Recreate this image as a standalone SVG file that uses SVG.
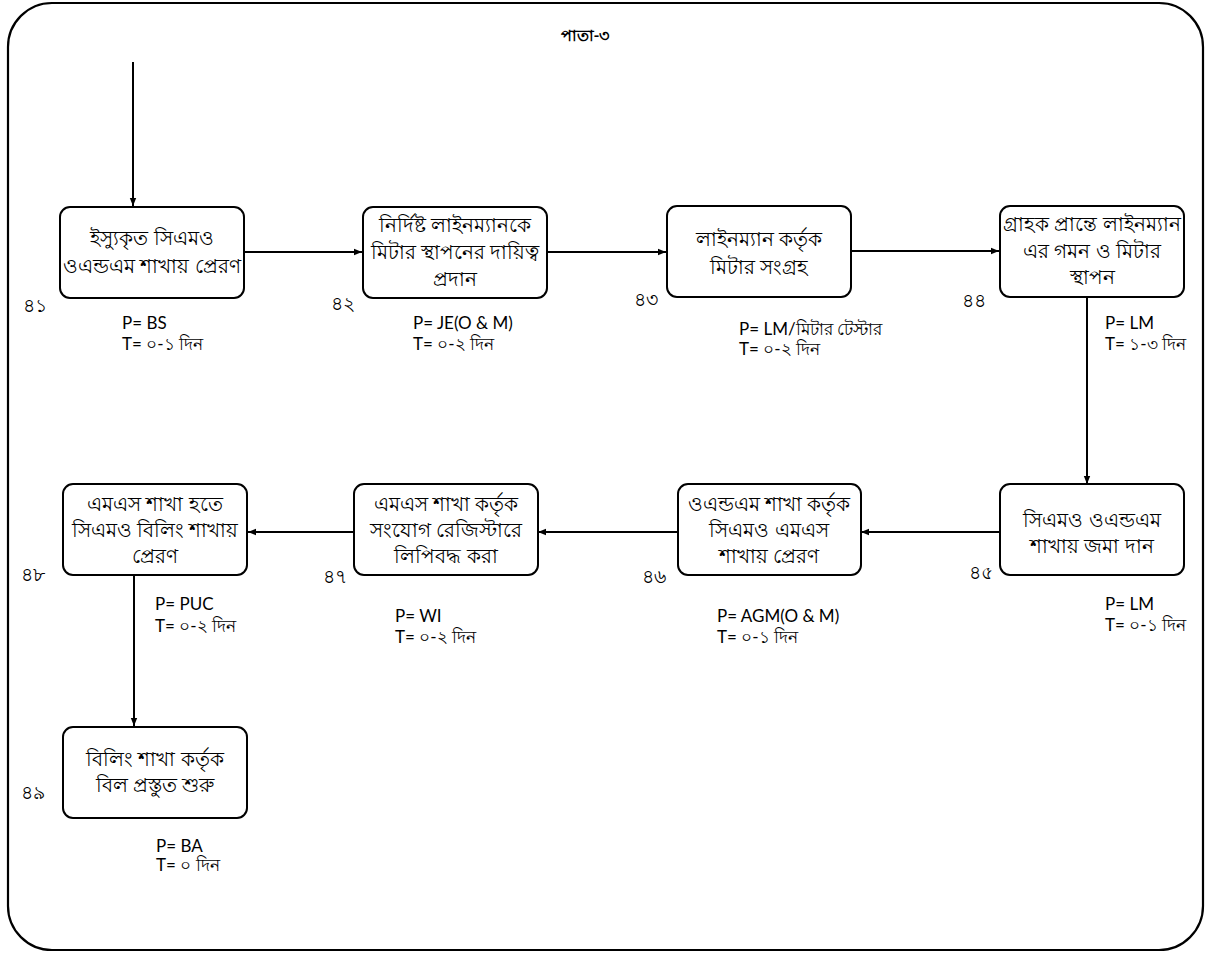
<svg xmlns="http://www.w3.org/2000/svg" width="1211" height="957" viewBox="0 0 1211 957">
<defs>
<marker id="ah" viewBox="0 0 10 10" refX="10" refY="5" markerWidth="8" markerHeight="8" markerUnits="userSpaceOnUse" orient="auto">
<path d="M0,1 L10,5 L0,9 z" fill="#000"/>
</marker>
</defs>
<style>
text{font-family:"Lato","Noto Sans","Liberation Sans",sans-serif;fill:#000;}
.box{fill:#fff;stroke:#000;stroke-width:2;}
.bt{font-size:20px;text-anchor:middle;}
.num{font-size:19px;text-anchor:end;}
.pt{font-size:17px;}
.conn{stroke:#000;stroke-width:2;fill:none;marker-end:url(#ah);}
</style>
<rect x="0" y="0" width="1211" height="957" fill="#fff"/>
<rect x="8" y="3" width="1195" height="947" rx="44" ry="44" fill="none" stroke="#000" stroke-width="2.2"/>
<text x="585" y="41" style="font-size:16px;font-weight:bold;text-anchor:middle">পাতা-৩</text>

<g id="connectors">
<line class="conn" x1="133" y1="62" x2="133" y2="206"/>
<line class="conn" x1="244" y1="252" x2="362" y2="252"/>
<line class="conn" x1="547" y1="252" x2="666" y2="252"/>
<line class="conn" x1="851" y1="251" x2="999" y2="251"/>
<line class="conn" x1="1087" y1="298" x2="1087" y2="484"/>
<line class="conn" x1="1000" y1="532" x2="861" y2="532"/>
<line class="conn" x1="678" y1="532" x2="538" y2="532"/>
<line class="conn" x1="353" y1="532" x2="248" y2="532"/>
<line class="conn" x1="134" y1="576" x2="134" y2="726"/>
</g>

<g id="n41">
<rect class="box" x="60" y="207" width="184" height="91" rx="10"/>
<text class="bt" x="152" y="245">ইস্যুকৃত সিএমও</text>
<text class="bt" x="152" y="273">ওএন্ডএম শাখায় প্রেরণ</text>
<text class="num" x="47" y="312">৪১</text>
<text class="pt" x="122" y="329">P= BS</text>
<text class="pt" x="122" y="350">T= ০-১ দিন</text>
</g>

<g id="n42">
<rect class="box" x="363" y="207" width="184" height="91" rx="10"/>
<text class="bt" x="455" y="232">নির্দিষ্ট লাইনম্যানকে</text>
<text class="bt" x="455" y="259">মিটার স্থাপনের দায়িত্ব</text>
<text class="bt" x="455" y="286">প্রদান</text>
<text class="num" x="355" y="310">৪২</text>
<text class="pt" x="413" y="329">P= JE(O &amp; M)</text>
<text class="pt" x="413" y="350">T= ০-২ দিন</text>
</g>

<g id="n43">
<rect class="box" x="667" y="206" width="184" height="91" rx="10"/>
<text class="bt" x="759" y="246">লাইনম্যান কর্তৃক</text>
<text class="bt" x="759" y="274">মিটার সংগ্রহ</text>
<text class="num" x="658" y="306">৪৩</text>
<text class="pt" x="739" y="335">P= LM/মিটার টেস্টার</text>
<text class="pt" x="739" y="355">T= ০-২ দিন</text>
</g>

<g id="n44">
<rect class="box" x="1000" y="206" width="184" height="91" rx="10"/>
<text class="bt" x="1092" y="231">গ্রাহক প্রান্তে লাইনম্যান</text>
<text class="bt" x="1092" y="258">এর গমন ও মিটার</text>
<text class="bt" x="1092" y="284">স্থাপন</text>
<text class="num" x="986" y="307">৪৪</text>
<text class="pt" x="1105" y="329">P= LM</text>
<text class="pt" x="1105" y="350">T= ১-৩ দিন</text>
</g>

<g id="n45">
<rect class="box" x="1000" y="484" width="184" height="91" rx="10"/>
<text class="bt" x="1092" y="527">সিএমও ওএন্ডএম</text>
<text class="bt" x="1092" y="553">শাখায় জমা দান</text>
<text class="num" x="993" y="579">৪৫</text>
<text class="pt" x="1105" y="610">P= LM</text>
<text class="pt" x="1105" y="631">T= ০-১ দিন</text>
</g>

<g id="n46">
<rect class="box" x="678" y="484" width="183" height="91" rx="10"/>
<text class="bt" x="769" y="511">ওএন্ডএম শাখা কর্তৃক</text>
<text class="bt" x="769" y="537">সিএমও  এমএস</text>
<text class="bt" x="769" y="563">শাখায় প্রেরণ</text>
<text class="num" x="666" y="583">৪৬</text>
<text class="pt" x="717" y="622">P= AGM(O &amp; M)</text>
<text class="pt" x="717" y="643">T= ০-১ দিন</text>
</g>

<g id="n47">
<rect class="box" x="354" y="484" width="184" height="91" rx="10"/>
<text class="bt" x="446" y="511">এমএস শাখা কর্তৃক</text>
<text class="bt" x="446" y="537">সংযোগ রেজিস্টারে</text>
<text class="bt" x="446" y="563">লিপিবদ্ধ করা</text>
<text class="num" x="347" y="583">৪৭</text>
<text class="pt" x="395" y="622">P= WI</text>
<text class="pt" x="395" y="643">T= ০-২ দিন</text>
</g>

<g id="n48">
<rect class="box" x="63" y="484" width="184" height="91" rx="10"/>
<text class="bt" x="155" y="511">এমএস শাখা হতে</text>
<text class="bt" x="155" y="537">সিএমও বিলিং শাখায়</text>
<text class="bt" x="155" y="563">প্রেরণ</text>
<text class="num" x="45" y="581">৪৮</text>
<text class="pt" x="155" y="610">P= PUC</text>
<text class="pt" x="155" y="632">T= ০-২ দিন</text>
</g>

<g id="n49">
<rect class="box" x="63" y="727" width="184" height="91" rx="10"/>
<text class="bt" x="155" y="766">বিলিং শাখা কর্তৃক</text>
<text class="bt" x="155" y="792">বিল প্রস্তুত শুরু</text>
<text class="num" x="45" y="799">৪৯</text>
<text class="pt" x="156" y="852">P= BA</text>
<text class="pt" x="156" y="871">T= ০ দিন</text>
</g>
</svg>
